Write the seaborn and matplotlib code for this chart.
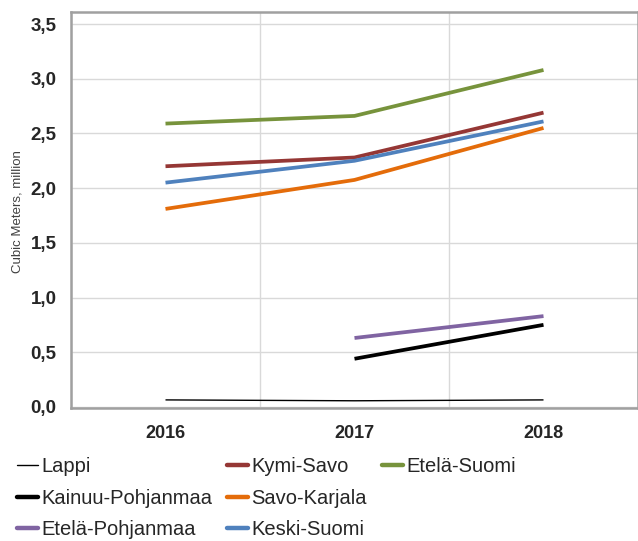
import numpy as np
import pandas as pd
import matplotlib
matplotlib.use("Agg")
import matplotlib.pyplot as plt
from matplotlib.lines import Line2D
from matplotlib.ticker import FixedLocator, FuncFormatter
import seaborn as sns

years = ["2016", "2017", "2018"]
regions = ["Lappi", "Kymi-Savo", "Etelä-Suomi", "Kainuu-Pohjanmaa",
           "Savo-Karjala", "Etelä-Pohjanmaa", "Keski-Suomi"]
lappi = [0.064, 0.056, 0.064]
kymi_savo = [2.20, 2.28, 2.69]
etela_suomi = [2.59, 2.66, 3.08]
kainuu_pohjanmaa = [np.nan, 0.44, 0.75]
savo_karjala = [1.81, 2.075, 2.55]
etela_pohjanmaa = [np.nan, 0.63, 0.83]
keski_suomi = [2.05, 2.25, 2.61]
colors = ["#000000", "#953735", "#77933C", "#000000", "#E46C0A", "#8064A2", "#4F81BD"]
widths = [1.0, 2.7, 2.7, 2.7, 2.7, 2.7, 2.7]
y_label = "Cubic Meters, million"

values = [lappi, kymi_savo, etela_suomi, kainuu_pohjanmaa,
          savo_karjala, etela_pohjanmaa, keski_suomi]

sns.set_style("white")
plt.rcParams['font.family'] = ['Liberation Sans', 'DejaVu Sans']

rows = []
for r, vals in zip(regions, values):
    for i, (y, v) in enumerate(zip(years, vals)):
        rows.append({"region": r, "pos": i, "year": y, "value": v})
df = pd.DataFrame(rows)

L, R, T, B = 71, 638, 12, 408
fig = plt.figure(figsize=(6.38, 5.41), dpi=100)
ax = fig.add_axes([L / 638, 1 - B / 541, (R - L) / 638, (B - T) / 541])

for r, c, w in zip(regions, colors, widths):
    sub = df[df.region == r].dropna()
    sns.lineplot(data=sub, x="pos", y="value", color=c, linewidth=w, ax=ax,
                 legend=False, solid_capstyle="butt")

ax.set_xlim(-0.5, 2.5)
ax.set_ylim(-0.01, 3.61)
ax.xaxis.set_major_locator(FixedLocator([-0.5, 0.5, 1.5]))
ax.xaxis.set_major_formatter(FuncFormatter(lambda v, p: ""))
ax.xaxis.set_minor_locator(FixedLocator([0, 1, 2]))
ax.xaxis.set_minor_formatter(FuncFormatter(lambda v, p: years[int(round(v))]))
ax.tick_params(axis="x", which="minor", length=0, pad=12, labelsize=13)
ax.tick_params(axis="x", which="major", length=7, width=1, color="#303030", direction="out")
for lab in ax.xaxis.get_minorticklabels():
    lab.set_fontweight("bold")

yt = [0.0, 0.5, 1.0, 1.5, 2.0, 2.5, 3.0, 3.5]
ax.set_yticks(yt)
ax.set_yticklabels([f"{v:.1f}".replace(".", ",") for v in yt], fontweight="bold", fontsize=13.5)
ax.tick_params(axis="y", length=7, width=1, color="#303030", direction="out", pad=3.5)
ax.grid(True, which="major", color="#D9D9D9", linewidth=1)
ax.set_axisbelow(True)
for s in ax.spines.values():
    s.set_color("#A0A0A0")
    s.set_linewidth(1.8)
ax.set_xlabel("")
ax.set_ylabel(y_label, fontsize=9.5, color="#404040")
ax.yaxis.set_label_coords(-(L - 24) / (R - L), (B - 212) / (B - T))

handles = [Line2D([], [], color=c, linewidth=(1.0 if w < 2 else 3.2)) for c, w in zip(colors, widths)]
# legend columns: [Lappi, Kainuu-Pohjanmaa, Etelä-Pohjanmaa], [Kymi-Savo, Savo-Karjala, Keski-Suomi], [Etelä-Suomi, blank]
order = [0, 3, 5, 1, 4, 6, 2]
h = [handles[i] for i in order] + [Line2D([], [], color="none")]
l = [regions[i] for i in order] + [""]
fig.legend(h, l, ncol=3, loc="upper left", bbox_to_anchor=(0.014, 0.170),
           frameon=False, fontsize=14.5, handlelength=1.05, handletextpad=0.15,
           columnspacing=0.75, labelspacing=0.62, borderaxespad=0)

fig.savefig("out.png", dpi=100)
